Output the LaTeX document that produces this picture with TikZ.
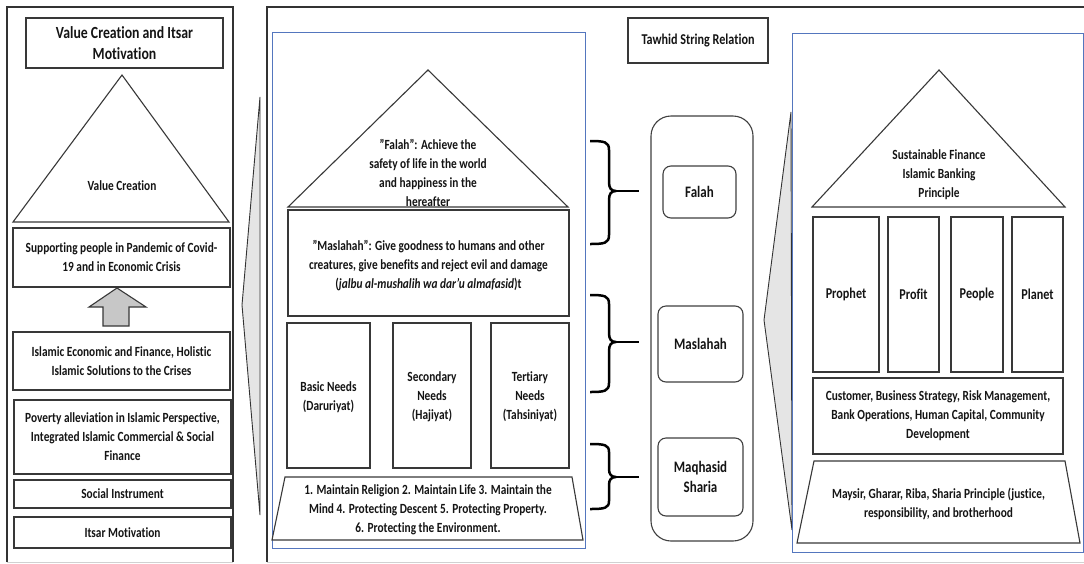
\documentclass[tikz,border=0pt]{standalone}
\usepackage{fontspec}
\setmainfont{Carlito}[FakeStretch=0.81, Ligatures=NoCommon]
\definecolor{bluec}{RGB}{84,118,190}
\newcommand{\dq}{\symbol{34}}
\begin{document}
\begin{tikzpicture}[x=1pt,y=-1pt,
  every node/.style={font=\bfseries\fontsize{14}{19}\selectfont, text=black!92, align=center, inner sep=0pt},
  frame/.style={draw=black!80, line width=1.3pt},
  faint/.style={draw=black!18, line width=1pt},
  bx/.style={draw=black!78, line width=1.1pt, fill=white},
  sz/.style 2 args={minimum width=#1pt, minimum height=#2pt},
  bluebox/.style={draw=bluec, line width=0.9pt},
  wedge/.style={draw=black!80, line width=0.9pt, fill=black!10},
  brc/.style={draw=black, line width=2.5pt, line join=round},
  rbox/.style={draw=black!75, line width=1.1pt, rounded corners=8pt},
  big/.style={font=\bfseries\fontsize{16}{20}\selectfont},
  mid/.style={font=\bfseries\fontsize{15}{20}\selectfont},
]
\clip (0,0) rectangle (1084,563);
\fill[white] (0,0) rectangle (1084,563);

% ---------------- left panel ----------------
\draw[frame] (7,562) -- (7,7) -- (233,7) -- (233,562);
\draw[faint] (7,562) -- (233,562);
\node[bx, sz={197}{50}, font=\bfseries\fontsize{17}{21}\selectfont] (vtitle) at (124.5,43) {Value Creation and Itsar\\Motivation};
\draw[bx] (122,75) coordinate (vtop) -- (229,222) coordinate (vr) -- (13,222) coordinate (vl) -- cycle;
\node (vtext) at (122,186) {Value Creation};
\node[bx, sz={217}{59}] (vb1) at (121.5,257.5) {Supporting people in Pandemic of Covid-\\19 and in Economic Crisis};
\draw[bx, fill=black!22] (117,288) -- (146,307) -- (129,307) -- (129,326) -- (103,326) -- (103,307) -- (89,307) -- cycle;
\node[bx, sz={217}{58}] (vb2) at (121.5,361) {Islamic Economic and Finance, Holistic\\Islamic Solutions to the Crises};
\node[bx, sz={217}{74}] (vb3) at (122.5,437) {Poverty alleviation in Islamic Perspective,\\Integrated Islamic Commercial \& Social\\Finance};
\node[bx, sz={217}{28}] (vb4) at (122.5,494) {Social Instrument};
\node[bx, sz={217}{31}] (vb5) at (122.5,532.5) {Itsar Motivation};

% ---------------- wedge left ----------------
\draw[wedge] (260,97) -- (242,305) -- (260,515) -- cycle;

% ---------------- middle panel ----------------
\draw[frame] (1095,7) -- (267,7) -- (267,562);
\draw[faint] (267,562) -- (1095,562);
\draw[bluebox] (272,32) rectangle (585,548);
\draw[bx] (428,70) -- (568,207) -- (288,207) -- cycle;
\node[bx, sz={281}{106}] (mas) at (428.5,263) {};
\node (falaht) at (428,173) {\dq Falah\dq: Achieve the\\safety of life in the world\\and happiness in the\\hereafter};
\node at (428.5,266) {\dq Maslahah\dq: Give goodness to humans and other\\creatures, give benefits and reject evil and damage\\(\textit{jalbu al-mushalih wa dar'u almafasid})t};
\node[bx, sz={83}{145}] (basic) at (328.5,395.5) {};
\node at (328.5,397) {Basic Needs\\(Daruriyat)};
\node[bx, sz={78}{145}] (second) at (432,395.5) {};
\node at (432,397) {Secondary\\Needs\\(Hajiyat)};
\node[bx, sz={78}{145}] (tert) at (530,395.5) {};
\node at (530,397) {Tertiary\\Needs\\(Tahsiniyat)};
\draw[bx] (285,477) -- (572,477) -- (583,540) -- (272,540) -- cycle;
\node (maq) at (428,510) {1. Maintain Religion 2. Maintain Life 3. Maintain the\\Mind 4. Protecting Descent 5. Protecting Property.\\6. Protecting the Environment.};

% braces
\draw[brc] (590,141) .. controls (605,141) and (609,142) .. (609,150) -- (609,182) .. controls (609,188) and (611,191) .. (616,191) .. controls (611,191) and (609,194) .. (609,200) -- (609,235) .. controls (609,243) and (605,244) .. (590,244);
\draw[brc, line width=2pt] (616,191) -- (639,191);
\draw[brc] (590,295) .. controls (605,295) and (609,296) .. (609,304) -- (609,333) .. controls (609,339) and (611,342) .. (616,342) .. controls (611,342) and (609,345) .. (609,351) -- (609,383) .. controls (609,391) and (605,392) .. (590,392);
\draw[brc, line width=2pt] (616,342) -- (639,342);
\draw[brc] (590,444) .. controls (605,444) and (609,445) .. (609,452) -- (609,469) .. controls (609,474) and (611,477) .. (616,477) .. controls (611,477) and (609,480) .. (609,485) -- (609,501) .. controls (609,508) and (605,509) .. (590,509);
\draw[brc, line width=2pt] (616,477) -- (639,477);

% tawhid column
\node[bx, sz={140}{45}, mid] (tawhid) at (698,40.5) {Tawhid String Relation};
\draw[rbox, rounded corners=20pt] (651,116) rectangle (753,541);
\node[rbox, sz={73}{52}, big] (cfalah) at (699.5,192) {Falah};
\node[rbox, sz={85}{76}, big] (cmas) at (700.5,344) {Maslahah};
\node[rbox, sz={85}{78}, big] (cmaq) at (700.5,477) {Maqhasid\\Sharia};

% ---------------- wedge right ----------------
\draw[wedge] (791,112) -- (764,320) -- (792,530) -- cycle;

% ---------------- right panel ----------------
\draw[bluebox] (792,33) rectangle (1083,552);
\draw[bx] (939,70) -- (1065,207) -- (812,207) -- cycle;
\node (sft) at (939,175) {Sustainable Finance\\Islamic Banking\\Principle};
\node[bx, sz={66}{155}, mid] (prophet) at (846,294.5) {Prophet};
\node[bx, sz={51}{155}, mid] (profit) at (913.5,294.5) {Profit};
\node[bx, sz={52}{155}, mid] (people) at (977,294.5) {People};
\node[bx, sz={51}{155}, mid] (planet) at (1037.5,294.5) {Planet};
\node[bx, sz={250}{76}] (cust) at (938,416) {Customer, Business Strategy, Risk Management,\\Bank Operations, Human Capital, Community\\Development};
\draw[bx] (814,461) -- (1065,461) -- (1080,543) -- (797,543) -- cycle;
\node (maysir) at (938.5,504) {Maysir, Gharar, Riba, Sharia Principle (justice,\\responsibility, and brotherhood};
\end{tikzpicture}
\end{document}
